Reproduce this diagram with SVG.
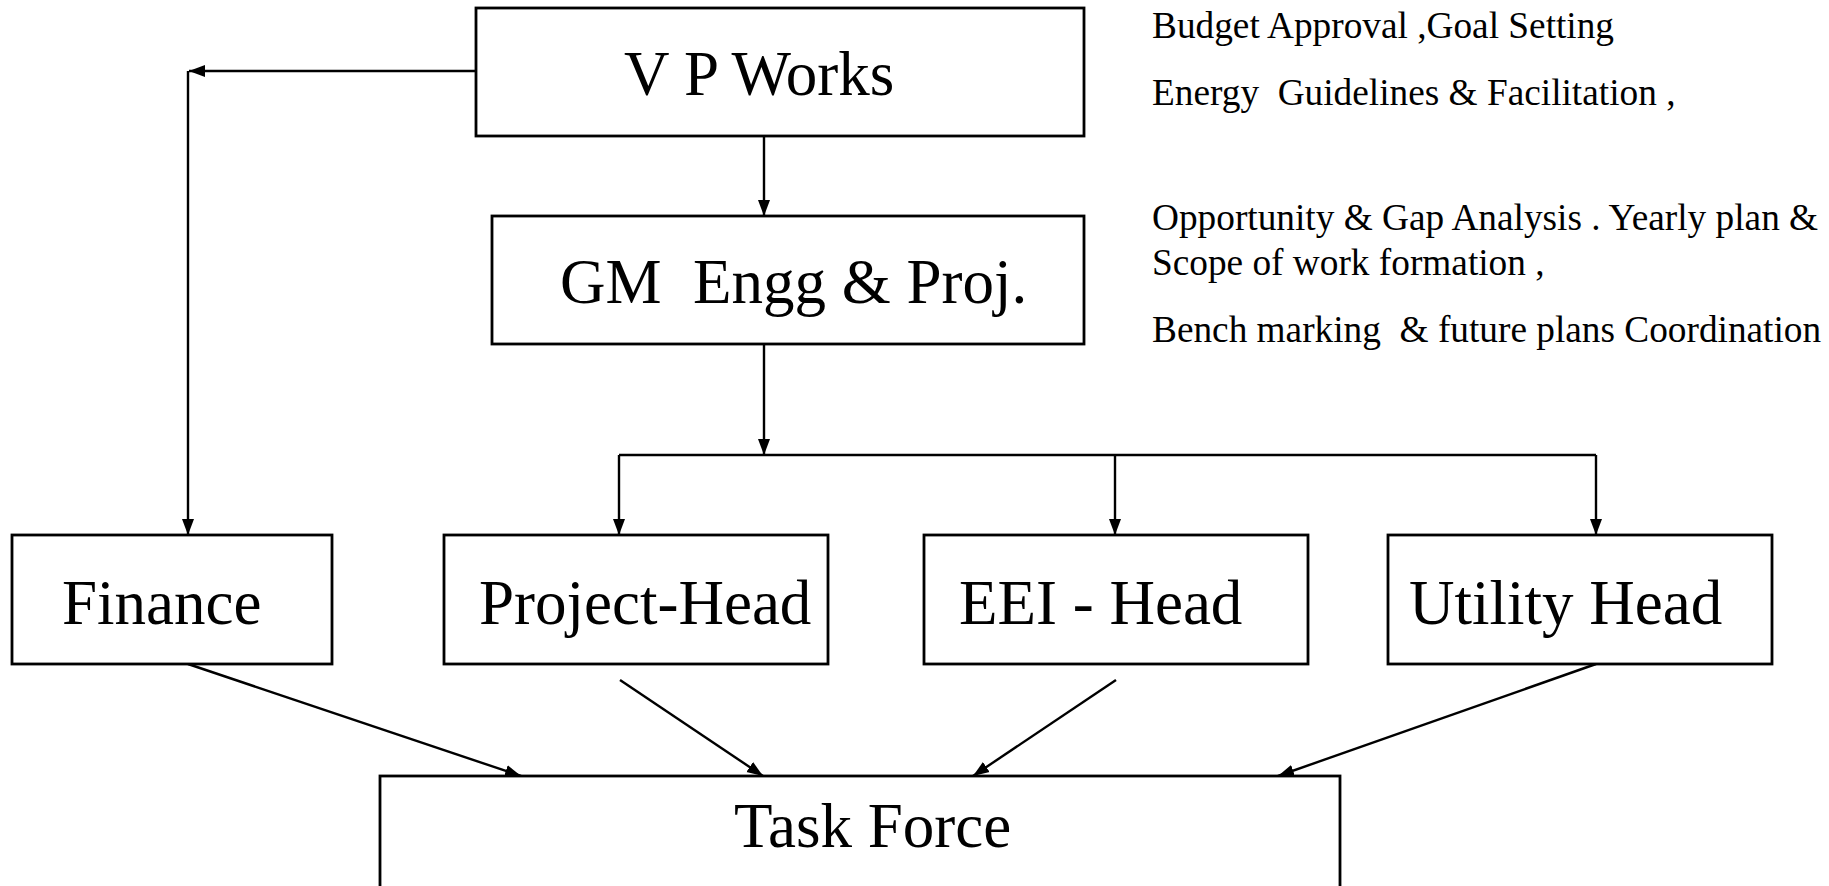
<svg xmlns="http://www.w3.org/2000/svg" width="1829" height="886" viewBox="0 0 1829 886">
<style>
.box{fill:#fff;stroke:#000;stroke-width:2.8}
.lbl{font-family:"Liberation Serif","Times New Roman",serif;font-size:63px;fill:#000}
.note{font-family:"Liberation Serif","Times New Roman",serif;font-size:37.3px;fill:#000}
.con{fill:none;stroke:#000;stroke-width:2.4}
.arr{marker-end:url(#ah)}
</style>
<defs>
<marker id="ah" markerUnits="userSpaceOnUse" markerWidth="18" markerHeight="14" refX="16" refY="6.5" orient="auto">
<path d="M0,0.5 L16,6.5 L0,12.5 z" fill="#000"/>
</marker>
</defs>
<rect width="1829" height="886" fill="#fff"/>
<g id="connectors">
<path class="con arr" d="M476,71 L189,71"/>
<path class="con arr" d="M188,71 L188,535"/>
<path class="con arr" d="M764,136 L764,216"/>
<path class="con arr" d="M764,344 L764,455"/>
<path class="con" d="M619,455 L1596,455"/>
<path class="con arr" d="M619,455 L619,535"/>
<path class="con arr" d="M1115,455 L1115,535"/>
<path class="con arr" d="M1596,455 L1596,535"/>
<path class="con arr" d="M188,664 L521,776"/>
<path class="con arr" d="M620,680 L763,776"/>
<path class="con arr" d="M1116,680 L973,776"/>
<path class="con arr" d="M1596,664 L1278,776"/>
</g>
<g id="vp-works">
<rect class="box" x="476" y="8" width="608" height="128"/>
<text class="lbl" x="624" y="95">V P Works</text>
</g>
<g id="gm-engg">
<rect class="box" x="492" y="216" width="592" height="128"/>
<text class="lbl" x="560" y="303" xml:space="preserve">GM  Engg &amp; Proj.</text>
</g>
<g id="finance">
<rect class="box" x="12" y="535" width="320" height="129"/>
<text class="lbl" x="62" y="624">Finance</text>
</g>
<g id="project-head">
<rect class="box" x="444" y="535" width="384" height="129"/>
<text class="lbl" x="479" y="624">Project-Head</text>
</g>
<g id="eei-head">
<rect class="box" x="924" y="535" width="384" height="129"/>
<text class="lbl" x="959" y="624">EEI - Head</text>
</g>
<g id="utility-head">
<rect class="box" x="1388" y="535" width="384" height="129"/>
<text class="lbl" x="1409" y="624">Utility Head</text>
</g>
<g id="task-force">
<rect class="box" x="380" y="776" width="960" height="140"/>
<text class="lbl" x="734" y="847">Task Force</text>
</g>
<g id="notes">
<text class="note" x="1152" y="38">Budget Approval ,Goal Setting</text>
<text class="note" x="1152" y="105" xml:space="preserve">Energy  Guidelines &amp; Facilitation ,</text>
<text class="note" x="1152" y="230">Opportunity &amp; Gap Analysis . Yearly plan &amp;</text>
<text class="note" x="1152" y="275">Scope of work formation ,</text>
<text class="note" x="1152" y="342" xml:space="preserve">Bench marking  &amp; future plans Coordination</text>
</g>
</svg>
